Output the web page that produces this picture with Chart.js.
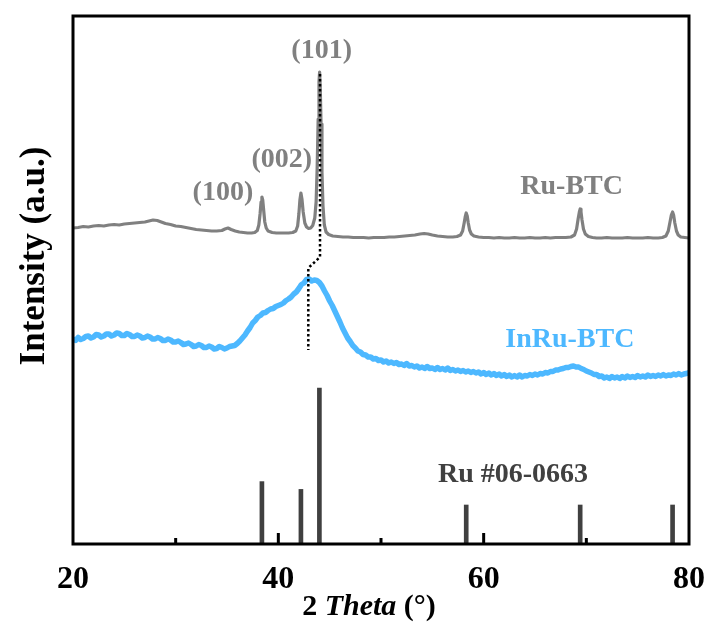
<!DOCTYPE html>
<html>
<head>
<meta charset="utf-8">
<title>XRD patterns</title>
<script src="https://cdn.jsdelivr.net/npm/chart.js@4"></script>
<style>
  html, body { margin: 0; padding: 0; background: #ffffff; }
  #wrap { width: 712px; height: 644px; }
</style>
</head>
<body>
<div id="wrap"><canvas id="xrd" width="712" height="644"></canvas></div>
<script>
// 2θ axis: range and tick labels
const thetaRange = [20, 80];
const thetaTickLabels = [20, 40, 60, 80];

// Ru-BTC diffractogram, [2θ, intensity (stacked, a.u.)]
const ruBtcPattern = [
  [20.0,316],[20.5,316.5],[21.0,317.5],[21.5,317],[22.0,318],[22.5,318.5],[23.0,318],[23.5,319],
  [24.0,319.5],[24.5,319],[25.0,320],[25.5,320.5],[26.0,321],[26.5,321.5],[27.0,322],[27.4,323],
  [27.8,324],[28.2,323.5],[28.6,322],[29.0,320.5],[29.5,319.5],[30.0,318],[30.5,317.5],[31.0,316.5],
  [31.5,315.5],[32.0,314.5],[32.5,314],[33.0,313.5],[33.5,313],[34.0,313],[34.5,313.5],[34.8,315],
  [35.1,316],[35.4,314.5],[35.8,313],[36.2,312],[36.6,311.5],[37.0,311],[37.4,311],[37.7,311.5],
  [37.95,313.5],[38.1,319],[38.22,330],[38.32,342],[38.4,347],[38.48,344],[38.57,334],[38.68,322],
  [38.82,316],[39.0,313],[39.4,311.5],[39.8,311],[40.2,311],[40.6,311],[41.0,311],[41.4,311.5],
  [41.7,313],[41.88,318],[42.0,330],[42.1,344],[42.2,351],[42.3,345],[42.42,332],[42.58,321],
  [42.75,317],[42.95,315.5],[43.15,316],[43.35,318.5],[43.55,326],[43.68,342],[43.78,375],[43.88,425],
  [43.96,462],[44.02,472],[44.08,458],[44.16,420],[44.25,372],[44.35,338],[44.48,319],[44.65,312],
  [44.9,309.5],[45.3,308],[45.8,307.5],[46.3,307],[46.8,307],[47.3,306.5],[47.8,306.5],[48.3,306.5],
  [48.8,306],[49.3,306.5],[49.8,306.5],[50.3,306.5],[50.8,307],[51.3,307],[51.8,307.5],[52.3,308],
  [52.8,308.5],[53.3,309],[53.8,310],[54.2,310.5],[54.6,310],[55.0,309],[55.5,308],[56.0,307.5],
  [56.5,307],[57.0,307],[57.4,307.5],[57.75,309],[57.95,313],[58.1,321],[58.2,327],[58.3,331],
  [58.4,328],[58.5,321],[58.63,314],[58.8,310],[59.05,308],[59.5,307],[60.0,306.5],[60.5,306.5],
  [61.0,306],[61.5,306.5],[62.0,306],[62.5,306],[63.0,306.5],[63.5,306],[64.0,306],[64.5,306.5],
  [65.0,306],[65.5,306],[66.0,306.5],[66.5,306],[67.0,306.5],[67.5,306.5],[68.0,306.5],[68.5,307],
  [68.85,309],[69.05,315],[69.2,325],[69.32,332],[69.4,335],[69.48,332],[69.58,324],[69.72,315],
  [69.9,310],[70.2,307.5],[70.6,306.5],[71.0,306],[71.5,306],[72.0,306.5],[72.5,306],[73.0,306],
  [73.5,306],[74.0,306.5],[74.5,306],[75.0,306],[75.5,306],[76.0,306.5],[76.5,306],[77.0,306],
  [77.4,306.5],[77.75,308],[77.98,313],[78.15,322],[78.28,329],[78.4,332],[78.5,329],[78.62,321],
  [78.78,313],[78.95,309],[79.2,307],[79.6,306.5],[80.0,306]
];

// InRu-BTC diffractogram, [2θ, intensity (stacked, a.u.)]
const inRuBtcPattern = [
  [20.0,205],[20.25,203.5],[20.5,206.5],[20.75,204.5],[21.0,205.5],[21.25,207.5],[21.5,208],[21.75,206],
  [22.0,207],[22.25,209.5],[22.5,209],[22.75,207],[23.0,208],[23.25,210],[23.5,210],[23.75,208],
  [24.0,209],[24.25,211],[24.5,210.5],[24.75,208.5],[25.0,208.5],[25.25,210.5],[25.5,209.5],[25.75,207.5],
  [26.0,207.5],[26.25,209],[26.5,208],[26.75,206],[27.0,206.5],[27.25,208],[27.5,207],[27.75,205],
  [28.0,205],[28.25,206.5],[28.5,205.5],[28.75,203.5],[29.0,203.5],[29.25,205],[29.5,204],[29.75,202],
  [30.0,202],[30.25,203],[30.5,201.5],[30.75,199.5],[31.0,200],[31.25,201],[31.5,199.5],[31.75,197.5],
  [32.0,198],[32.25,199.5],[32.5,198.5],[32.75,196.5],[33.0,196.5],[33.25,198],[33.5,197],[33.75,195],
  [34.0,195.5],[34.25,197.5],[34.5,196.5],[34.75,195],[35.0,196],[35.25,197.5],[35.5,198],[35.75,198.5],
  [36.0,200.5],[36.25,203],[36.5,206],[36.75,209],[37.0,213],[37.25,216.5],[37.5,221],[37.75,223.5],
  [38.0,227],[38.25,228.5],[38.5,231],[38.75,231.5],[39.0,233.5],[39.25,235],[39.5,235.5],[39.75,237.5],
  [40.0,238.5],[40.25,239.5],[40.5,241],[40.75,243.5],[41.0,245],[41.25,247],[41.5,250],[41.75,252],
  [42.0,255.5],[42.25,259.5],[42.5,261],[42.75,264.5],[43.0,265],[43.25,263],[43.5,264],[43.75,263.5],
  [44.0,261.5],[44.25,258],[44.5,253],[44.75,248.5],[45.0,243],[45.25,238.5],[45.5,233],[45.75,227.5],
  [46.0,222],[46.25,216],[46.5,211],[46.75,206],[47.0,202.5],[47.25,198.5],[47.5,196],[47.75,193],
  [48.0,192],[48.25,189.5],[48.5,189],[48.75,187],[49.0,187],[49.25,185],[49.5,185.5],[49.75,183.5],
  [50.0,184],[50.25,182],[50.5,183],[50.75,181],[51.0,182],[51.25,180.5],[51.5,181.5],[51.75,179.5],
  [52.0,180],[52.25,178.5],[52.5,180.5],[52.75,178],[53.0,178.5],[53.25,177],[53.5,178],[53.75,176],
  [54.0,177],[54.25,175.5],[54.5,177.5],[54.75,175.5],[55.0,176],[55.25,174.5],[55.5,176.5],[55.75,174.5],
  [56.0,175.5],[56.25,174],[56.5,176],[56.75,173.5],[57.0,174.5],[57.25,173],[57.5,174],[57.75,172.5],
  [58.0,173.5],[58.25,172],[58.5,173],[58.75,171.5],[59.0,172.5],[59.25,171],[59.5,172],[59.75,170],
  [60.0,171.5],[60.25,169.5],[60.5,171],[60.75,169],[61.0,170.5],[61.25,168.5],[61.5,170],[61.75,168],
  [62.0,169.5],[62.25,167.5],[62.5,169],[62.75,167],[63.0,168.5],[63.25,167],[63.5,169],[63.75,167],
  [64.0,168.5],[64.25,168],[64.5,169.5],[64.75,168.5],[65.0,170],[65.25,169],[65.5,170.5],[65.75,170],
  [66.0,171.5],[66.25,171],[66.5,172.5],[66.75,172.5],[67.0,174],[67.25,174],[67.5,175],[67.75,175.5],
  [68.0,176.5],[68.25,176.5],[68.5,177.5],[68.75,178],[69.0,177],[69.25,177],[69.5,175.5],[69.75,174.5],
  [70.0,173],[70.25,172],[70.5,171],[70.75,169.5],[71.0,169.5],[71.25,167.5],[71.5,168],[71.75,166],
  [72.0,167],[72.25,165.5],[72.5,167.5],[72.75,166],[73.0,167],[73.25,165.5],[73.5,167.5],[73.75,166],
  [74.0,168],[74.25,166.5],[74.5,167.5],[74.75,166.5],[75.0,168.5],[75.25,167],[75.5,168],[75.75,167],
  [76.0,169],[76.25,167.5],[76.5,168.5],[76.75,167.5],[77.0,169],[77.25,168],[77.5,169.5],[77.75,168],
  [78.0,169],[78.25,168.5],[78.5,170],[78.75,169],[79.0,170.5],[79.25,169],[79.5,170],[79.75,170.5],
  [80.0,171.5]
];

// Reference pattern Ru (PDF #06-0663): peak positions and relative intensities
const ruRefTheta = [38.4, 42.2, 44.0, 58.3, 69.4, 78.4];
const ruRefIntensity = [40, 35, 100, 25, 25, 25];

// Guide showing the shift of the (101) reflection
const shiftGuide = [[44.06, 470], [44.06, 287], [42.92, 276], [42.92, 194]];

// Text annotations placed in data coordinates
const annotations = [
  { text: '(100)', x: 34.6, y: 351, color: '#808080' },
  { text: '(002)', x: 40.33, y: 384, color: '#808080' },
  { text: '(101)', x: 44.22, y: 493, color: '#808080' },
  { text: 'Ru-BTC', x: 68.57, y: 357, color: '#808080' },
  { text: 'InRu-BTC', x: 68.4, y: 204, color: '#4db8ff' },
  { text: 'Ru #06-0663', x: 62.86, y: 69, color: '#404040' }
];

const SERIF = "'Liberation Serif', 'Times New Roman', serif";
Chart.defaults.font.family = SERIF;

const toXY = arr => arr.map(([x, y]) => ({ x, y }));

// Box frame and inward x ticks
const frameTicks = {
  id: 'frameTicks',
  afterDatasetsDraw(chart) {
    const { ctx, chartArea: a, scales: { x } } = chart;
    ctx.save();
    ctx.strokeStyle = '#000';
    ctx.lineWidth = 3;
    ctx.beginPath();
    x.ticks.forEach(t => {
      if (t.value <= x.min || t.value >= x.max) return;
      const px = x.getPixelForValue(t.value);
      const len = thetaTickLabels.includes(t.value) ? 11 : 6;
      ctx.moveTo(px, a.bottom);
      ctx.lineTo(px, a.bottom - len);
    });
    ctx.stroke();
    ctx.strokeRect(a.left, a.top, a.right - a.left, a.bottom - a.top);
    ctx.restore();
  }
};

// Peak and sample labels
const labelText = {
  id: 'labelText',
  afterDatasetsDraw(chart) {
    const { ctx, scales: { x, y } } = chart;
    ctx.save();
    ctx.font = 'bold 28px ' + SERIF;
    ctx.textAlign = 'center';
    ctx.textBaseline = 'middle';
    annotations.forEach(a => {
      ctx.fillStyle = a.color;
      ctx.fillText(a.text, x.getPixelForValue(a.x), y.getPixelForValue(a.y));
    });
    ctx.restore();
  }
};

// Axis titles (the x title mixes upright and italic runs)
const axisTitles = {
  id: 'axisTitles',
  afterDraw(chart) {
    const { ctx } = chart;
    ctx.save();
    ctx.fillStyle = '#000';
    ctx.textBaseline = 'alphabetic';
    ctx.textAlign = 'left';
    const runs = [
      { t: '2 ', f: 'bold 30px ' + SERIF },
      { t: 'Theta', f: 'italic bold 30px ' + SERIF },
      { t: ' (°)', f: 'bold 30px ' + SERIF }
    ];
    let total = 0;
    runs.forEach(r => { ctx.font = r.f; r.w = ctx.measureText(r.t).width; total += r.w; });
    let px = 369 - total / 2;
    runs.forEach(r => { ctx.font = r.f; ctx.fillText(r.t, px, 615); px += r.w; });

    ctx.translate(44, 256);
    ctx.rotate(-Math.PI / 2);
    ctx.textAlign = 'center';
    ctx.font = 'bold 35px ' + SERIF;
    ctx.fillText('Intensity (a.u.)', 0, 0);
    ctx.restore();
  }
};

new Chart(document.getElementById('xrd'), {
  type: 'line',
  data: {
    datasets: [
      {
        label: 'Ru #06-0663',
        type: 'bar',
        data: ruRefTheta.map((t, i) => ({ x: t, y: ruRefIntensity[i] })),
        yAxisID: 'yRef',
        backgroundColor: '#404040',
        borderWidth: 0,
        barThickness: 4,
        order: 3
      },
      {
        label: 'InRu-BTC',
        data: toXY(inRuBtcPattern),
        borderColor: '#4db8ff',
        borderWidth: 5.5,
        pointRadius: 0,
        borderJoinStyle: 'round',
        borderCapStyle: 'round',
        tension: 0,
        order: 2
      },
      {
        label: 'Ru-BTC',
        data: toXY(ruBtcPattern),
        borderColor: '#808080',
        borderWidth: 3.2,
        pointRadius: 0,
        borderJoinStyle: 'round',
        tension: 0,
        order: 1
      },
      {
        label: 'shift',
        data: toXY(shiftGuide),
        borderColor: '#000000',
        borderWidth: 2.5,
        borderDash: [2.5, 2.5],
        pointRadius: 0,
        tension: 0,
        order: 0
      }
    ]
  },
  options: {
    responsive: false,
    animation: false,
    events: [],
    layout: { padding: { left: 0, top: 16, right: 23, bottom: 0 } },
    plugins: { legend: { display: false }, tooltip: { enabled: false } },
    scales: {
      x: {
        type: 'linear',
        min: thetaRange[0],
        max: thetaRange[1],
        offset: false,
        grid: { display: false, offset: false },
        border: { display: false },
        ticks: {
          stepSize: 10,
          autoSkip: false,
          maxRotation: 0,
          padding: 9,
          color: '#000',
          font: { size: 32, weight: 'bold' },
          callback: v => (thetaTickLabels.includes(v) ? String(v) : '')
        },
        afterFit: s => { s.height = 100; s.paddingLeft = 0; s.paddingRight = 0; }
      },
      y: {
        type: 'linear',
        min: 0,
        max: 528,
        grid: { display: false },
        border: { display: false },
        ticks: { display: false },
        afterFit: s => { s.width = 73; s.paddingTop = 0; s.paddingBottom = 0; }
      },
      yRef: {
        type: 'linear',
        display: false,
        min: 0,
        max: 338.5
      }
    }
  },
  plugins: [labelText, frameTicks, axisTitles]
});
</script>
</body>
</html>
